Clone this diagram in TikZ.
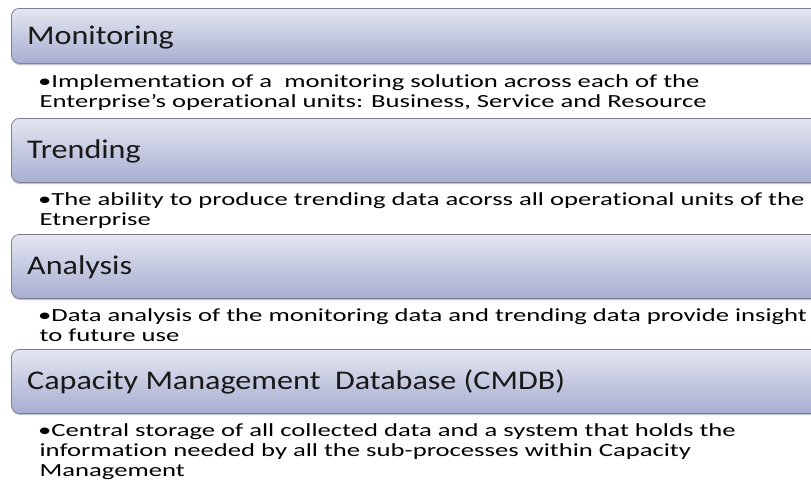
\documentclass[tikz,border=0pt]{standalone}
\usepackage{fontspec}
\setmainfont{Carlito}[Ligatures=NoCommon]
\usepackage{graphicx}

\definecolor{boxtop}{HTML}{E4E6F0}
\definecolor{boxbot}{HTML}{A7AED1}
\definecolor{boxline}{HTML}{7E8090}
\definecolor{boxshade}{HTML}{9A9AA4}

% titles and bullet text are set wider than the font's own shapes
\newcommand\widehead[1]{\scalebox{1.19}[1]{#1}}
\newcommand\widebody[1]{\scalebox{1.44}[1]{#1}}
\newcommand\bulletpara[1]{\widebody{\begin{tabular}[t]{@{}l@{}}#1\end{tabular}}}

\tikzset{
  headbox/.style={draw=boxline, line width=0.8pt, rounded corners=8pt,
    top color=boxtop, bottom color=boxbot, minimum width=830pt,
    anchor=north west, inner sep=0pt},
  headshade/.style={fill=boxshade, rounded corners=8pt, minimum width=830pt,
    anchor=north west, inner sep=0pt, opacity=0.6},
  headtext/.style={anchor=base west, inner sep=0pt, text=black!90,
    font=\fontsize{27}{30}\selectfont},
  bodytext/.style={anchor=base west, inner sep=0pt,
    font=\fontsize{18.5}{20}\selectfont},
}

\begin{document}
\begin{tikzpicture}[x=1pt, y=-1pt]
  \useasboundingbox (0,0) rectangle (811,493);

  % header bars with a soft shadow underneath: top / height / name
  \foreach \t/\h/\n in {8/55/mon, 118/64/tre, 234/64/ana, 349/64/cap} {
    \node[headshade, minimum height=\h pt] (\n s) at (12,\t+2) {};
    \node[headbox, minimum height=\h pt] (\n) at (11,\t) {};
  }

  % header titles
  \node[headtext] (mont) at (27,44) {\widehead{Monitoring}};
  \node[headtext] (tret) at (27,158.5) {\widehead{Trending}};
  \node[headtext] (anat) at (27,274.5) {\widehead{Analysis}};
  \node[headtext] (capt) at (27,389.5) {\widehead{Capacity Management\ \ Database (CMDB)}};

  % bullet text under each bar
  \node[bodytext] (monb) at (38,87) {\bulletpara{•Implementation of a\ \ monitoring solution across each of the\\
    \hspace{1pt}Enterprise's operational units: Business, Service and Resource}};
  \node[bodytext] (treb) at (38,205) {\bulletpara{•The ability to produce trending data acorss all operational units of the\\
    \hspace{1pt}Etnerprise}};
  \node[bodytext] (anab) at (38,321) {\bulletpara{•Data analysis of the monitoring data and trending data provide insight\\
    \hspace{1pt}to future use}};
  \node[bodytext] (capb) at (38,436) {\bulletpara{•Central storage of all collected data and a system that holds the\\
    \hspace{1pt}information needed by all the sub-processes within Capacity\\
    \hspace{1pt}Management}};
\end{tikzpicture}
\end{document}
